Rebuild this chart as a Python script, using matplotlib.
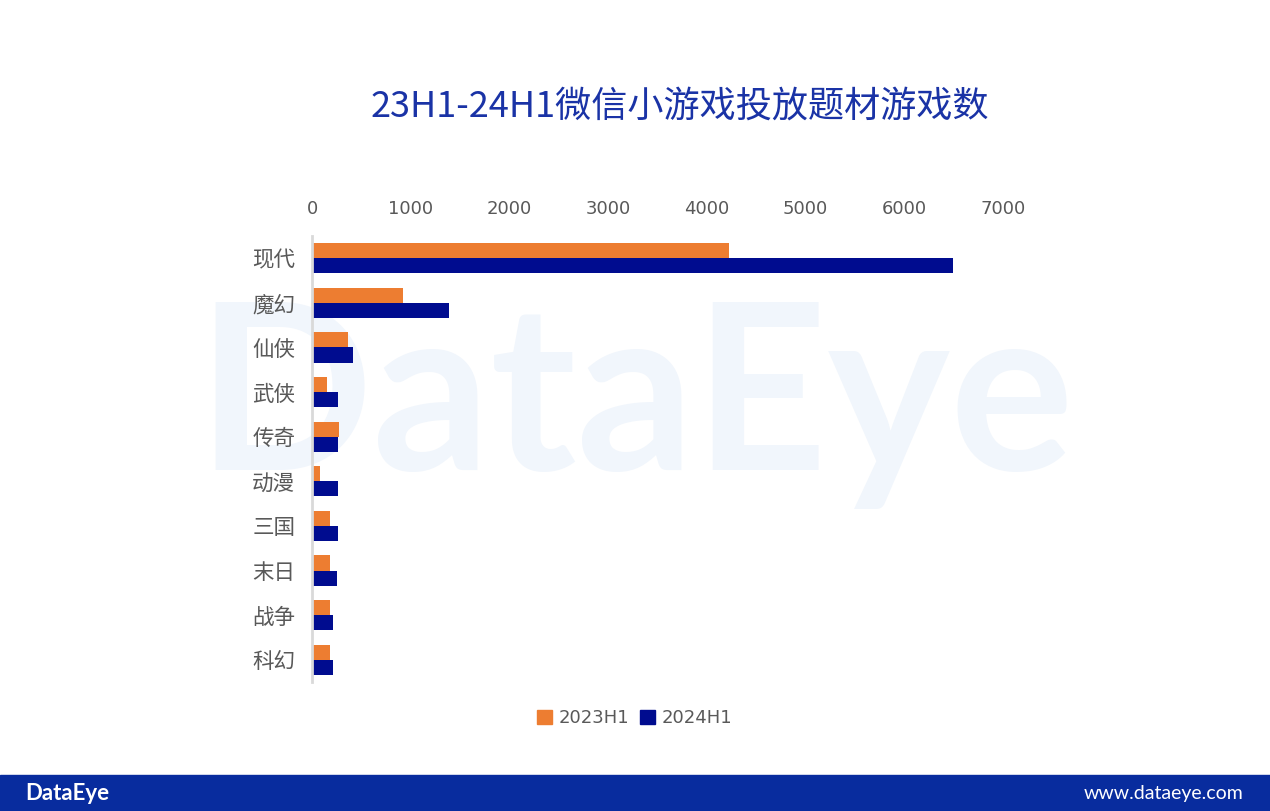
import matplotlib.pyplot as plt
from matplotlib.patches import Patch, Rectangle
import numpy as np

plt.rcParams['font.family'] = ['Noto Sans CJK SC', 'DejaVu Sans']

# données
categories = ['现代', '魔幻', '仙侠', '武侠', '传奇', '动漫', '三国', '末日', '战争', '科幻']
h1_2023 = [4225, 922, 362, 155, 277, 85, 179, 179, 179, 179]
h1_2024 = [6495, 1388, 419, 267, 267, 267, 267, 253, 216, 216]
xticks = [0, 1000, 2000, 3000, 4000, 5000, 6000, 7000]

c_orange = '#ED7D31'
c_blue = '#000C8F'
c_gray = '#595959'

W, H = 1270, 811
fig = plt.figure(figsize=(W / 100, H / 100), dpi=100)
fig.patch.set_facecolor('white')

# filigrane (derrière le graphique)
fig.text(635 / W, 1 - 470 / H, 'DataEye', fontsize=167, color='#F1F6FC',
         family='Lato', fontweight='bold', ha='center', va='baseline', zorder=0)

ax = fig.add_axes([312 / W, 1 - 682 / H, (1003 - 312) / W, (682 - 236) / H])
ax.patch.set_alpha(0)
ax.set_zorder(2)

y = np.arange(len(categories))
bh = 0.34
ax.barh(y - bh / 2, h1_2023, height=bh, color=c_orange, label='2023H1')
ax.barh(y + bh / 2, h1_2024, height=bh, color=c_blue, label='2024H1')

ax.set_xlim(0, 7000)
ax.set_ylim(len(categories) - 0.5, -0.5)
ax.set_xticks(xticks)
ax.set_xticklabels([str(t) for t in xticks], family=['Liberation Sans Narrow', 'DejaVu Sans'])
ax.set_yticks(y)
ax.set_yticklabels(categories)
ax.xaxis.tick_top()
ax.tick_params(axis='x', length=0, labelsize=13, colors=c_gray, pad=13)
ax.tick_params(axis='y', length=0, labelsize=15.5, colors=c_gray, pad=12)
for s in ['top', 'right', 'bottom']:
    ax.spines[s].set_visible(False)
ax.spines['left'].set_color('#D9D9D9')
ax.spines['left'].set_linewidth(2)

# titre
fig.text(680 / W, 1 - 107 / H, '23H1-24H1微信小游戏投放题材游戏数', fontsize=26,
         color='#1A33A6', ha='center', va='center')

# légende
handles = [Patch(color=c_orange, label='2023H1'), Patch(color=c_blue, label='2024H1')]
leg = fig.legend(handles=handles, loc='center', bbox_to_anchor=(635 / W, 1 - 718 / H), ncol=2,
                 frameon=False, handlelength=0.8, handleheight=0.8, handletextpad=0.4,
                 columnspacing=0.6, fontsize=13)
for t in leg.get_texts():
    t.set_color(c_gray)
    t.set_family(['Liberation Sans Narrow', 'DejaVu Sans'])

# bandeau du bas
fig.add_artist(Rectangle((0, 0), 1, 36 / H, transform=fig.transFigure,
                         color='#082C9E', zorder=1))
fig.text(25 / W, 18 / H, 'DataEye', fontsize=16, color='white', family='Lato',
         fontweight='bold', ha='left', va='center', zorder=2)
fig.text(1243 / W, 18 / H, 'www.dataeye.com', fontsize=14, color='white',
         family='Lato', ha='right', va='center', zorder=2)

fig.savefig('out.png', dpi=100)
